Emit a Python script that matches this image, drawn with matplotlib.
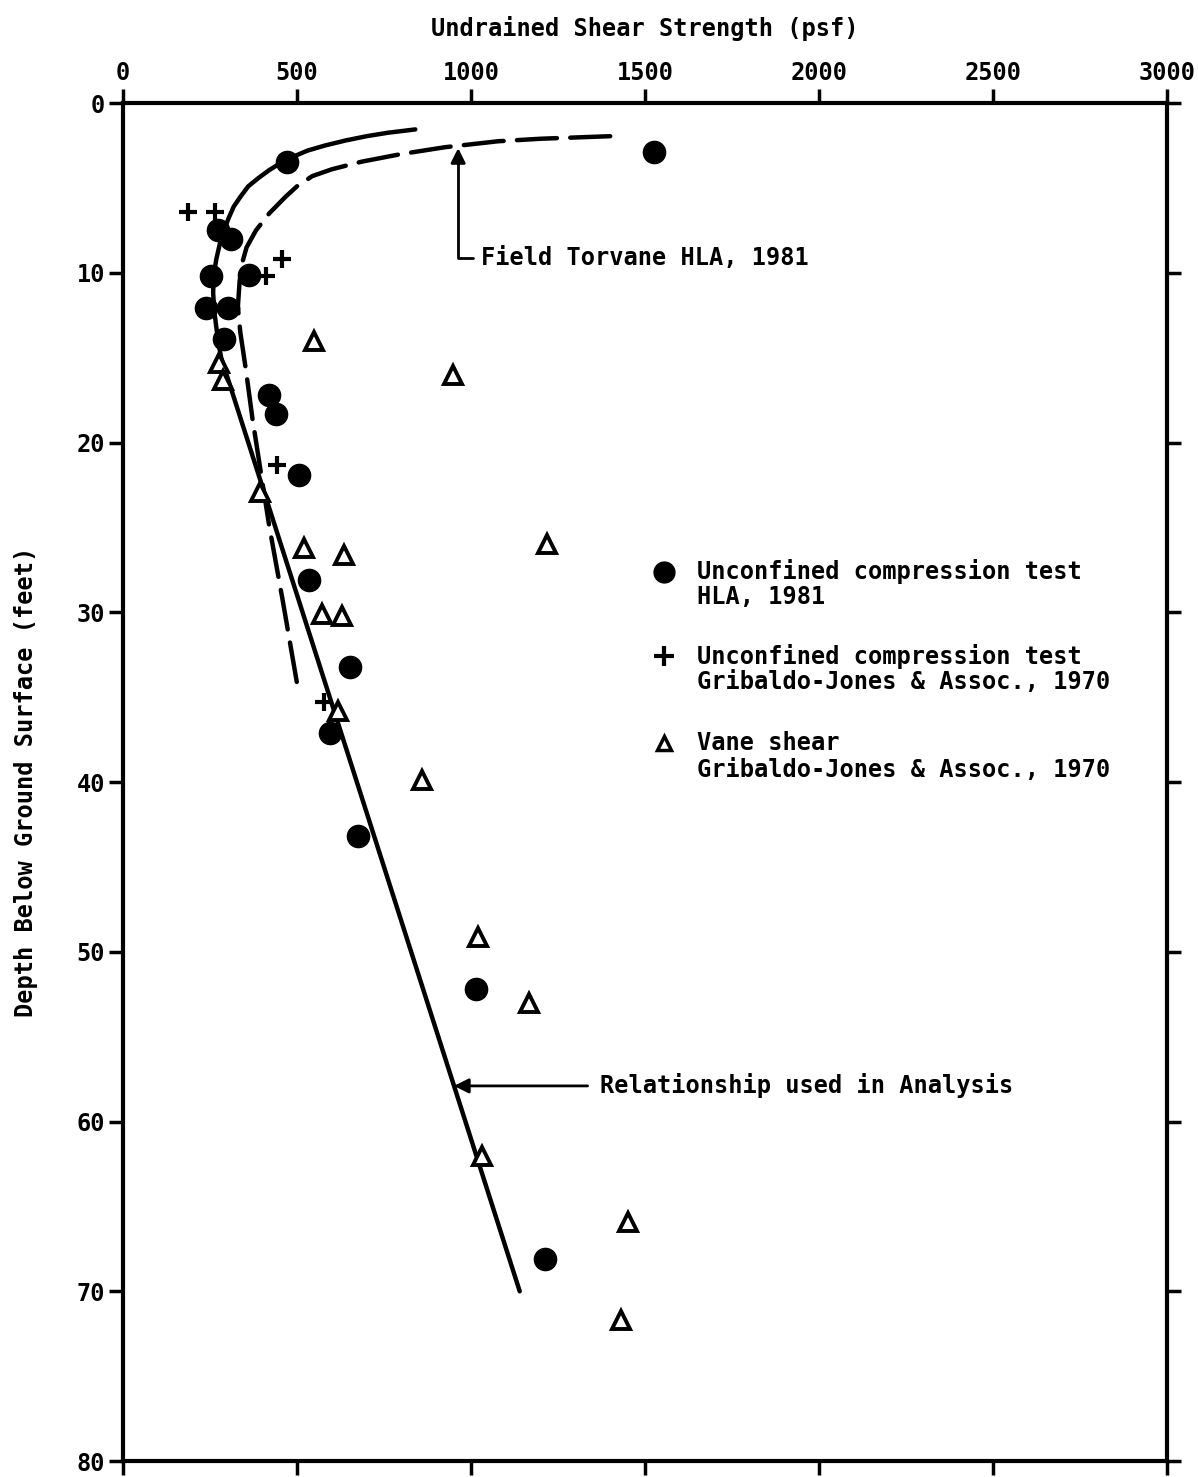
import matplotlib
matplotlib.use("Agg")
import matplotlib.pyplot as plt

# ---------------- data (psf, depth ft) ----------------
hla_uc_strength = [1526, 472, 272, 310, 253, 363, 239, 301, 291, 420, 439, 506,
                   533, 653, 596, 674, 1014, 1212]
hla_uc_depth = [2.9, 3.45, 7.5, 8.0, 10.2, 10.1, 12.1, 12.1, 13.9, 17.2, 18.3, 21.9,
                28.1, 33.2, 37.1, 43.2, 52.2, 68.1]

gj_uc_strength = [187, 263, 458, 411, 442, 577]
gj_uc_depth = [6.4, 6.4, 9.2, 10.2, 21.3, 35.3]

vane_strength = [549, 277, 287, 949, 394, 520, 636, 1219, 572, 630, 618, 858,
                 1020, 1168, 1032, 1451, 1430]
vane_depth = [14.0, 15.3, 16.3, 16.0, 22.9, 26.2, 26.6, 26.0, 30.1, 30.2, 35.8, 39.9,
              49.1, 53.0, 62.0, 65.9, 71.7]

# relationship used in analysis (solid)
rel_strength = [840, 760, 700, 640, 580, 530, 490, 455, 420, 390, 360, 338, 318,
                303, 290, 278, 268, 260, 259, 262, 268, 275, 282, 1140]
rel_depth = [1.55, 1.75, 1.95, 2.2, 2.5, 2.8, 3.15, 3.5, 3.95, 4.4, 4.9, 5.5, 6.1,
             6.8, 7.5, 8.3, 9.2, 10.2, 11.2, 12.2, 13.2, 14.2, 15.0, 70.0]

# field torvane HLA 1981 (dashed)
torv_strength = [1400, 1200, 1077, 925, 800, 686, 600, 544, 500, 468, 420, 382, 355,
                 344, 335, 330, 337, 353, 372, 420, 458, 501]
torv_depth = [1.95, 2.1, 2.25, 2.6, 3.0, 3.45, 3.9, 4.3, 4.9, 5.5, 6.5, 7.5, 8.5,
              9.3, 10.5, 12.0, 13.5, 15.7, 18.6, 24.9, 29.2, 34.3]

x_ticks = [0, 500, 1000, 1500, 2000, 2500, 3000]
y_ticks = [0, 10, 20, 30, 40, 50, 60, 70, 80]

# ---------------- figure ----------------
FONT = "DejaVu Sans Mono"
FS = 17
plt.rcParams["font.family"] = [FONT]
plt.rcParams["font.weight"] = "bold"

fig = plt.figure(figsize=(11.98, 14.77), dpi=100)
ax = fig.add_axes([0.1027, 0.0108, 0.8714, 0.9194])

ax.set_xlim(0, 3000)
ax.set_ylim(80, 0)
ax.set_xticks(x_ticks)
ax.set_yticks(y_ticks)
ax.set_xticklabels([str(t) for t in x_ticks], fontsize=FS, fontweight="bold")
ax.set_yticklabels([str(t) for t in y_ticks], fontsize=FS, fontweight="bold")
ax.xaxis.set_label_position("top")
ax.tick_params(axis="both", direction="out", length=10, width=2.5, pad=3,
               top=True, bottom=True, left=True, right=True,
               labeltop=True, labelbottom=False)
for s in ax.spines.values():
    s.set_linewidth(3)

ax.set_xlabel("Undrained Shear Strength (psf)", fontsize=FS, fontweight="bold",
              labelpad=18)
ax.set_ylabel("Depth Below Ground Surface (feet)", fontsize=FS, fontweight="bold",
              labelpad=28)

# lines
ax.plot(rel_strength, rel_depth, color="black", lw=3.2, solid_capstyle="round",
        solid_joinstyle="round", zorder=2)
ax.plot(torv_strength, torv_depth, color="black", lw=3.2, dashes=(9, 3),
        dash_capstyle="round", dash_joinstyle="round", zorder=2)

# points
ax.plot(hla_uc_strength, hla_uc_depth, "o", color="black", ms=16, zorder=4)
ax.plot(gj_uc_strength, gj_uc_depth, "+", color="black", ms=13, mew=3, zorder=4)
ax.plot(vane_strength, vane_depth, "^", mfc="white", mec="black", ms=13, mew=2.8,
        zorder=3)

# annotations
ax.annotate("Field Torvane HLA, 1981", xy=(963, 2.65), xytext=(1029, 9.1),
            fontsize=FS, fontweight="bold", va="center", ha="left",
            arrowprops=dict(arrowstyle="-|>", color="black", lw=2,
                            mutation_scale=22, relpos=(0, 0.5), shrinkA=4,
                            shrinkB=0,
                            connectionstyle="angle,angleA=0,angleB=90,rad=0"))
ax.annotate("Relationship used in Analysis", xy=(951, 57.9), xytext=(1371, 57.9),
            fontsize=FS, fontweight="bold", va="center", ha="left",
            arrowprops=dict(arrowstyle="-|>", color="black", lw=2,
                            mutation_scale=22, relpos=(0, 0.5), shrinkA=7,
                            shrinkB=0))

# manual legend
leg_x_marker = 1554
leg_x_text = 1649
ax.plot([leg_x_marker], [27.6], "o", color="black", ms=15, clip_on=False)
ax.text(leg_x_text, 27.6, "Unconfined compression test", fontsize=FS,
        fontweight="bold", va="center", ha="left")
ax.text(leg_x_text, 29.1, "HLA, 1981", fontsize=FS, fontweight="bold",
        va="center", ha="left")
ax.plot([leg_x_marker], [32.6], "+", color="black", ms=14, mew=3, clip_on=False)
ax.text(leg_x_text, 32.6, "Unconfined compression test", fontsize=FS,
        fontweight="bold", va="center", ha="left")
ax.text(leg_x_text, 34.1, "Gribaldo-Jones & Assoc., 1970", fontsize=FS,
        fontweight="bold", va="center", ha="left")
ax.plot([leg_x_marker], [37.7], "^", mfc="white", mec="black", ms=10, mew=2.5,
        clip_on=False)
ax.text(leg_x_text, 37.7, "Vane shear", fontsize=FS, fontweight="bold",
        va="center", ha="left")
ax.text(leg_x_text, 39.3, "Gribaldo-Jones & Assoc., 1970", fontsize=FS,
        fontweight="bold", va="center", ha="left")

fig.savefig("out.png", dpi=100)
